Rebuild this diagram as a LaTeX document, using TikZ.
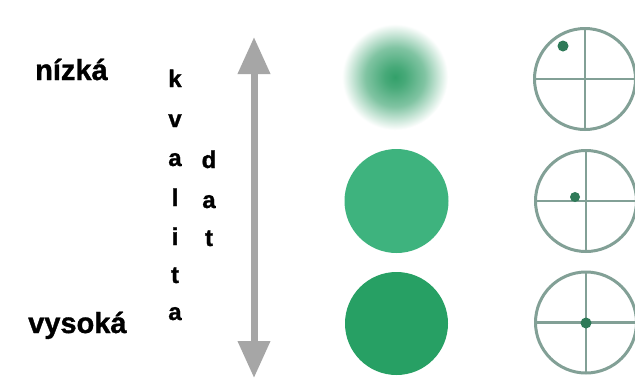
\documentclass[tikz,border=0pt]{standalone}
\usepackage{fontspec}
\setmainfont{Liberation Sans}
\newfontfamily\heavyfont[FakeBold=1.2]{Liberation Sans Bold}
\usetikzlibrary{arrows.meta}
\definecolor{arrowgray}{HTML}{A6A6A6}
\definecolor{midgreen}{HTML}{3EB37E}
\definecolor{darkgreen}{HTML}{27A064}
\definecolor{blurc}{HTML}{33A06A}
\definecolor{ringgray}{HTML}{82A096}
\definecolor{dotgreen}{HTML}{2F7A58}
\pgfdeclareradialshading{blurgreen}{\pgfpoint{0bp}{0bp}}{color(0bp)=(blurc); color(5bp)=(blurc!90!white); color(14bp)=(blurc!62!white); color(20bp)=(blurc!28!white); color(25bp)=(white); color(50bp)=(white)}
\tikzset{
  bigword/.style={font=\fontsize{29}{30}\selectfont\heavyfont, inner sep=0pt, anchor=base west},
  letter/.style={font=\fontsize{24}{25}\selectfont\heavyfont, inner sep=0pt, anchor=base},
  ring/.style={draw=ringgray, line width=3pt},
  cross/.style={draw=ringgray, line width=2.2pt},
  dotc/.style={fill=dotgreen},
}
\begin{document}
\begin{tikzpicture}[x=1pt,y=-1pt]
\fill[white] (0,0) rectangle (635,389);
\useasboundingbox (0,0) rectangle (635,389);
% words
\node[bigword] (low) at (35,80) {nízká};
\node[bigword] (high) at (28,333) {vysoká};
% vertical letters
\node[letter] (l1) at (175,87) {k};
\node[letter] (l2) at (175,127) {v};
\node[letter] (l3) at (175,166) {a};
\node[letter] (l4) at (175,206) {l};
\node[letter] (l5) at (175,245) {i};
\node[letter] (l6) at (175,283) {t};
\node[letter] (l7) at (175,320) {a};
\node[letter] (m1) at (209,168) {d};
\node[letter] (m2) at (209,208) {a};
\node[letter] (m3) at (209,246) {t};
% arrow
\coordinate (atop) at (254,37);
\coordinate (abot) at (254,378);
\draw[arrowgray, line width=7pt, {Triangle[width=31pt,length=37pt]}-{Triangle[width=31pt,length=37pt]}] (atop) -- (abot);
% green circles
\shade[shading=blurgreen] (395,77) circle (53pt);
\fill[midgreen] (396.5,201) circle (52pt);
\fill[darkgreen] (396.5,323.5) circle (51.5pt);
% target circles
\coordinate (c1) at (585,79);
\coordinate (c2) at (586,201);
\coordinate (c3) at (586,322.5);
\foreach \c in {c1,c2,c3}{
  \draw[cross] ([xshift=-50pt]\c) -- ([xshift=50pt]\c);
  \draw[cross] ([yshift=-50pt]\c) -- ([yshift=50pt]\c);
  \draw[ring] (\c) circle (50.5pt);
}
\fill[dotc] (563,46) circle (5.5pt);
\fill[dotc] (575,197) circle (5pt);
\fill[dotc] (586,323) circle (5.5pt);
\end{tikzpicture}
\end{document}
